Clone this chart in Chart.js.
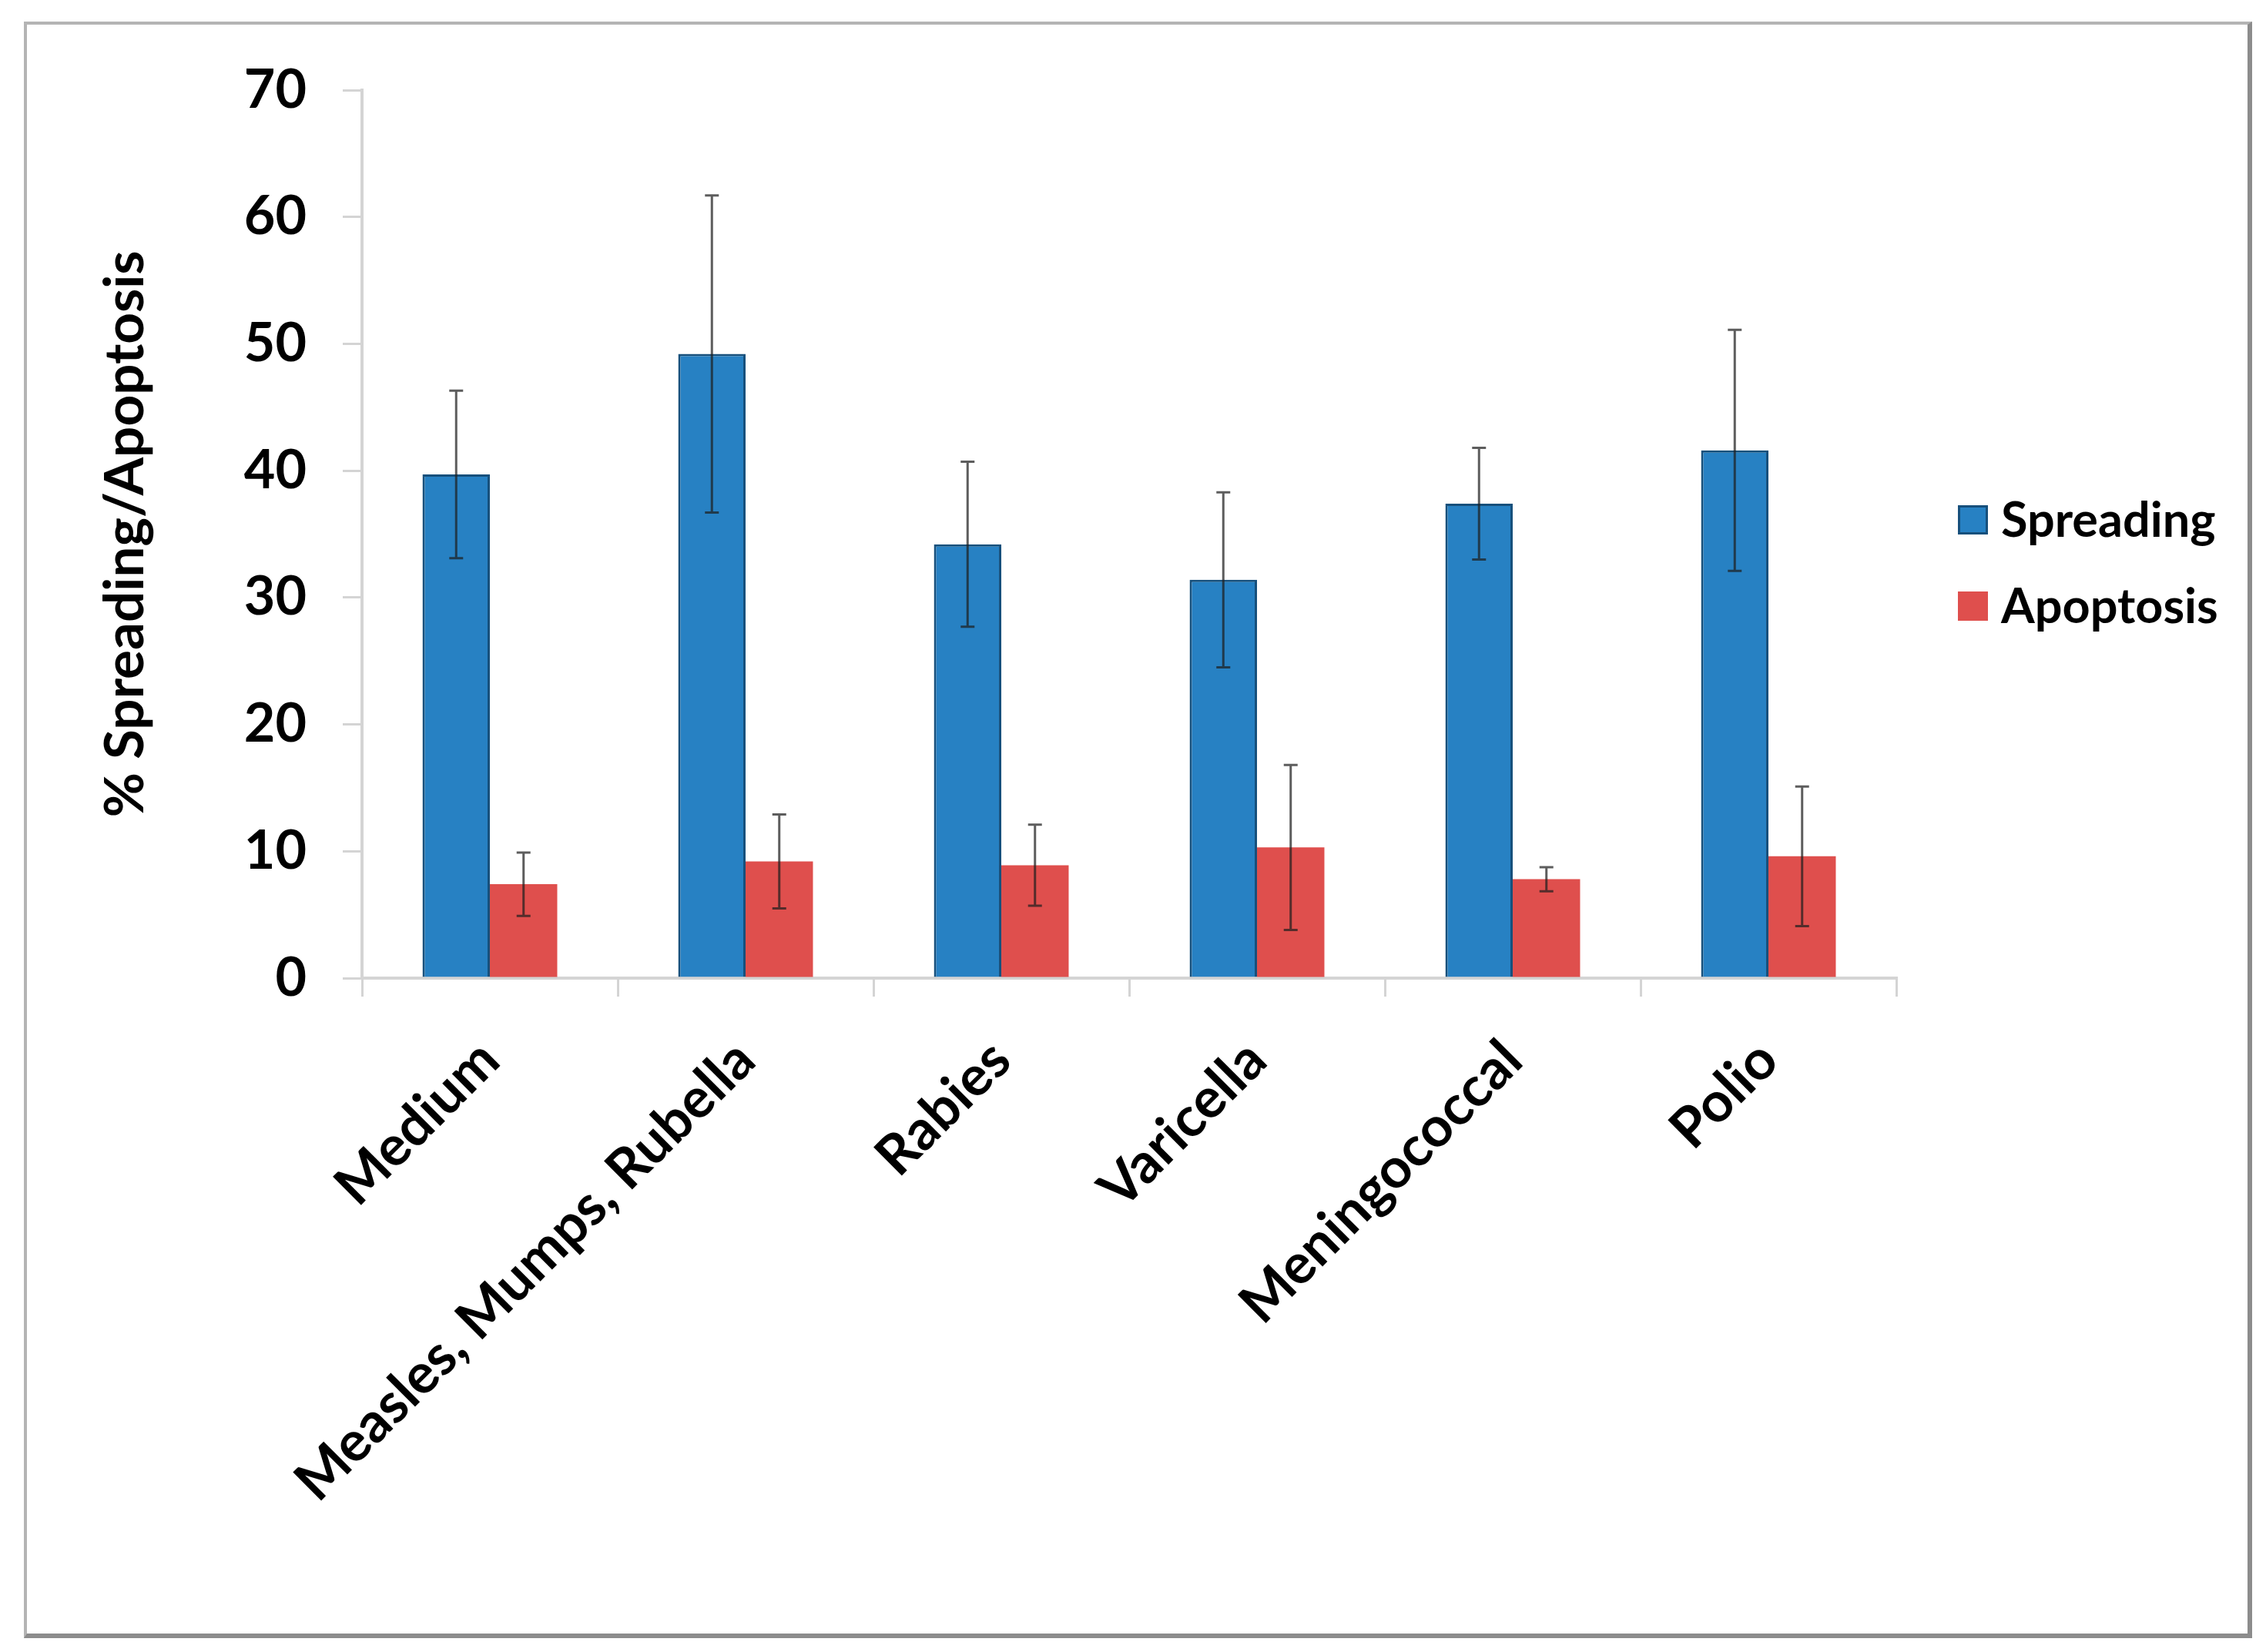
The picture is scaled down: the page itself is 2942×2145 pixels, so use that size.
<!DOCTYPE html>
<html>
<head>
<meta charset="utf-8">
<script src="https://cdn.jsdelivr.net/npm/chart.js@4/dist/chart.umd.min.js"></script>
<style>
  html, body { margin: 0; padding: 0; background: #fff; }
  #frame {
    position: absolute; left: 31px; top: 28px; width: 2883px; height: 2089px;
    border-left: 4px solid #b4b4b4; border-top: 4px solid #b4b4b4;
    border-right: 6px solid #8c8c8c; border-bottom: 6px solid #8c8c8c;
    box-sizing: content-box;
  }
  #wrap { position: absolute; left: 0; top: 0; width: 2942px; height: 2145px; }
</style>
</head>
<body>
<div id="frame"></div>
<div id="wrap"><canvas id="chart"></canvas></div>
<script>
// data
const categories = ['Medium', 'Measles, Mumps, Rubella', 'Rabies', 'Varicella', 'Meningococcal', 'Polio'];
const spreading = [39.7, 49.2, 34.2, 31.4, 37.4, 41.6];
const spreadingErr = [6.6, 12.5, 6.5, 6.9, 4.4, 9.5];
const apoptosis = [7.4, 9.2, 8.9, 10.3, 7.8, 9.6];
const apoptosisErr = [2.5, 3.7, 3.2, 6.5, 0.95, 5.5];
const yTicks = [0, 10, 20, 30, 40, 50, 60, 70];

const FONT = 'Lato, "Open Sans", sans-serif';
const axisGray = '#d4d4d4';

// error bars, drawn from the y scale
const errorBars = {
    id: 'errorBars',
    afterDatasetsDraw(chart) {
        const ctx = chart.ctx;
        const yScale = chart.scales.y;
        chart.data.datasets.forEach((ds, di) => {
            const meta = chart.getDatasetMeta(di);
            meta.data.forEach((bar, i) => {
                const v = ds.data[i];
                const e = ds.errors[i];
                const top = yScale.getPixelForValue(v + e);
                const bot = yScale.getPixelForValue(v - e);
                ctx.save();
                ctx.strokeStyle = 'rgba(30,30,30,0.72)';
                ctx.lineWidth = 3;
                ctx.beginPath();
                ctx.moveTo(bar.x, top);
                ctx.lineTo(bar.x, bot);
                ctx.moveTo(bar.x - 9, top);
                ctx.lineTo(bar.x + 9, top);
                ctx.moveTo(bar.x - 9, bot);
                ctx.lineTo(bar.x + 9, bot);
                ctx.stroke();
                ctx.restore();
            });
        });
    }
};

// legend on the right, built from the datasets
const sideLegend = {
    id: 'sideLegend',
    afterDraw(chart) {
        const ctx = chart.ctx;
        const area = chart.chartArea;
        const boxX = area.right + 80;
        chart.data.datasets.forEach((ds, i) => {
            const cy = area.top + 558 + i * 112;
            ctx.save();
            ctx.fillStyle = ds.backgroundColor;
            ctx.fillRect(boxX, cy - 19, 39, 38);
            if (ds.borderWidth) {
                ctx.strokeStyle = ds.borderColor;
                ctx.lineWidth = 3;
                ctx.strokeRect(boxX + 1.5, cy - 17.5, 36, 35);
            }
            ctx.fillStyle = '#000';
            ctx.font = 'bold 63px ' + FONT;
            ctx.textBaseline = 'middle';
            ctx.textAlign = 'left';
            ctx.fillText(ds.label, boxX + 56, cy + 2);
            ctx.restore();
        });
    }
};

new Chart(document.getElementById('chart'), {
    type: 'bar',
    data: {
        labels: categories,
        datasets: [{
            label: 'Spreading',
            data: spreading,
            errors: spreadingErr,
            backgroundColor: '#2781C3',
            borderColor: '#17507c',
            borderWidth: 3,
            borderSkipped: 'bottom'
        }, {
            label: 'Apoptosis',
            data: apoptosis,
            errors: apoptosisErr,
            backgroundColor: '#DF4F4D',
            borderColor: '#DF4F4D',
            borderWidth: 0
        }]
    },
    options: {
        responsive: true,
        maintainAspectRatio: false,
        animation: false,
        categoryPercentage: 0.527,
        barPercentage: 1.0,
        layout: {
            padding: { top: 117, left: 0, right: 480, bottom: 0 }
        },
        plugins: {
            legend: { display: false },
            tooltip: { enabled: false }
        },
        scales: {
            x: {
                grid: {
                    display: true,
                    drawOnChartArea: false,
                    drawTicks: true,
                    tickLength: 24,
                    color: axisGray,
                    lineWidth: 3
                },
                border: { display: true, color: axisGray, width: 4 },
                ticks: {
                    color: '#000',
                    font: { family: FONT, size: 72, weight: 'bold' },
                    maxRotation: 45,
                    minRotation: 45,
                    autoSkip: false,
                    padding: 40
                },
                afterFit(scale) {
                    scale.height = 875;
                }
            },
            y: {
                min: 0,
                max: 70,
                afterBuildTicks(scale) {
                    scale.ticks = yTicks.map(v => ({ value: v }));
                },
                grid: {
                    display: true,
                    drawOnChartArea: false,
                    drawTicks: true,
                    tickLength: 25,
                    color: axisGray,
                    lineWidth: 3
                },
                border: { display: true, color: axisGray, width: 4 },
                ticks: {
                    color: '#000',
                    font: { family: FONT, size: 70, weight: 'bold' },
                    padding: 47
                },
                title: {
                    display: true,
                    text: '% Spreading/Apoptosis',
                    color: '#000',
                    font: { family: FONT, size: 71, weight: 'bold' },
                    padding: { top: 121, bottom: 0 }
                },
                afterFit(scale) {
                    scale.width = 470;
                }
            }
        }
    },
    plugins: [errorBars, sideLegend]
});
</script>
</body>
</html>
